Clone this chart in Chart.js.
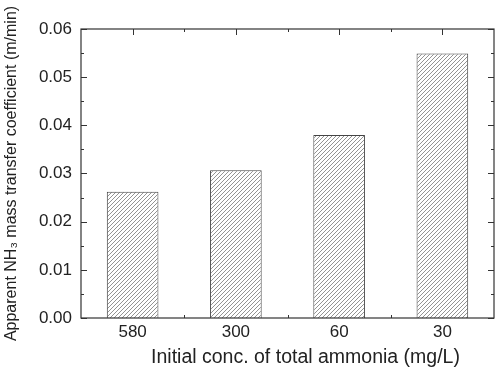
<!DOCTYPE html>
<html>
<head>
<meta charset="utf-8">
<script src="https://cdn.jsdelivr.net/npm/chart.js@4/dist/chart.umd.min.js"></script>
<style>
  html, body { margin: 0; padding: 0; background: #fff; }
  #wrap { width: 495px; height: 369px; }
</style>
</head>
<body>
<div id="wrap"><canvas id="chart"></canvas></div>
<script>
// Data
var concLabels = ['580', '300', '60', '30'];
var massTransfer = [0.0262, 0.0307, 0.0380, 0.0549];
var yTicks = [0, 0.01, 0.02, 0.03, 0.04, 0.05, 0.06];
var xTitle = 'Initial conc. of total ammonia (mg/L)';
var yTitle = 'Apparent NH\u2083 mass transfer coefficient (m/min)';

var axisColor = '#333';
var fontFamily = '"Liberation Sans", Arial, sans-serif';

// diagonal hatch pattern for the bars
function makeHatch() {
  var c = document.createElement('canvas');
  c.width = 4; c.height = 4;
  var g = c.getContext('2d');
  g.fillStyle = '#fff';
  g.fillRect(0, 0, 4, 4);
  g.strokeStyle = '#777';
  g.lineWidth = 0.8;
  g.beginPath();
  g.moveTo(0, 4); g.lineTo(4, 0);
  g.moveTo(-1, 1); g.lineTo(1, -1);
  g.moveTo(3, 5); g.lineTo(5, 3);
  g.stroke();
  return g.createPattern(c, 'repeat');
}

// inward ticks on all four sides + frame + x title
var frameTicks = {
  id: 'frameTicks',
  beforeDatasetsDraw: function (chart) {
    var ctx = chart.ctx, a = chart.chartArea;
    var xs = chart.scales.x, ys = chart.scales.y;
    ctx.save();
    ctx.strokeStyle = axisColor;
    ctx.lineWidth = 1;
    ctx.beginPath();
    for (var v = 0; v <= 0.0601; v += 0.005) {
      var y = Math.round(ys.getPixelForValue(v)) + 0.5;
      var len = (Math.round(v * 1000) % 10 === 0) ? 6 : 3;
      ctx.moveTo(a.left, y); ctx.lineTo(a.left + len, y);
      ctx.moveTo(a.right, y); ctx.lineTo(a.right - len, y);
    }
    for (var i = 0; i < concLabels.length; i++) {
      var x = Math.round(xs.getPixelForValue(i)) + 0.5;
      ctx.moveTo(x, a.bottom); ctx.lineTo(x, a.bottom - 6);
      ctx.moveTo(x, a.top); ctx.lineTo(x, a.top + 6);
      if (i < concLabels.length - 1) {
        var xm = Math.round((xs.getPixelForValue(i) + xs.getPixelForValue(i + 1)) / 2) + 0.5;
        ctx.moveTo(xm, a.bottom); ctx.lineTo(xm, a.bottom - 3);
        ctx.moveTo(xm, a.top); ctx.lineTo(xm, a.top + 3);
      }
    }
    ctx.stroke();
    ctx.restore();
  },
  afterDraw: function (chart) {
    var ctx = chart.ctx, a = chart.chartArea;
    ctx.save();
    ctx.strokeStyle = axisColor;
    ctx.lineWidth = 1.2;
    ctx.strokeRect(a.left, a.top, a.right - a.left, a.bottom - a.top);
    // x title sits a bit right of the plot centre in the original
    ctx.fillStyle = '#222';
    ctx.font = '19.5px ' + fontFamily;
    ctx.textAlign = 'center';
    ctx.textBaseline = 'middle';
    ctx.fillText(xTitle, (a.left + a.right) / 2 + 18, 358);
    ctx.restore();
  }
};

var ctx = document.getElementById('chart').getContext('2d');
new Chart(ctx, {
  type: 'bar',
  data: {
    labels: concLabels,
    datasets: [{
      data: massTransfer,
      backgroundColor: makeHatch(),
      borderColor: '#444',
      borderWidth: 1,
      barPercentage: 0.5,
      categoryPercentage: 1.0
    }]
  },
  options: {
    responsive: true,
    maintainAspectRatio: false,
    animation: false,
    layout: { padding: { top: 29, right: 1, left: 0, bottom: 0 } },
    plugins: { legend: { display: false }, tooltip: { enabled: false } },
    scales: {
      x: {
        grid: { display: false, drawTicks: false },
        border: { display: false },
        ticks: { color: '#222', font: { family: fontFamily, size: 17 }, padding: 4 },
        afterFit: function (s) { s.height = 51; }
      },
      y: {
        min: 0,
        max: 0.06,
        grid: { display: false, drawTicks: false },
        border: { display: false },
        afterBuildTicks: function (s) { s.ticks = yTicks.map(function (v) { return { value: v }; }); },
        ticks: {
          color: '#222',
          font: { family: fontFamily, size: 17 },
          padding: 9,
          callback: function (v) { return Number(v).toFixed(2); }
        },
        title: {
          display: true,
          text: yTitle,
          color: '#222',
          font: { family: fontFamily, size: 16 },
          padding: { top: 2, bottom: 2 }
        },
        afterFit: function (s) { s.width = 81; }
      }
    }
  },
  plugins: [frameTicks]
});
</script>
</body>
</html>
